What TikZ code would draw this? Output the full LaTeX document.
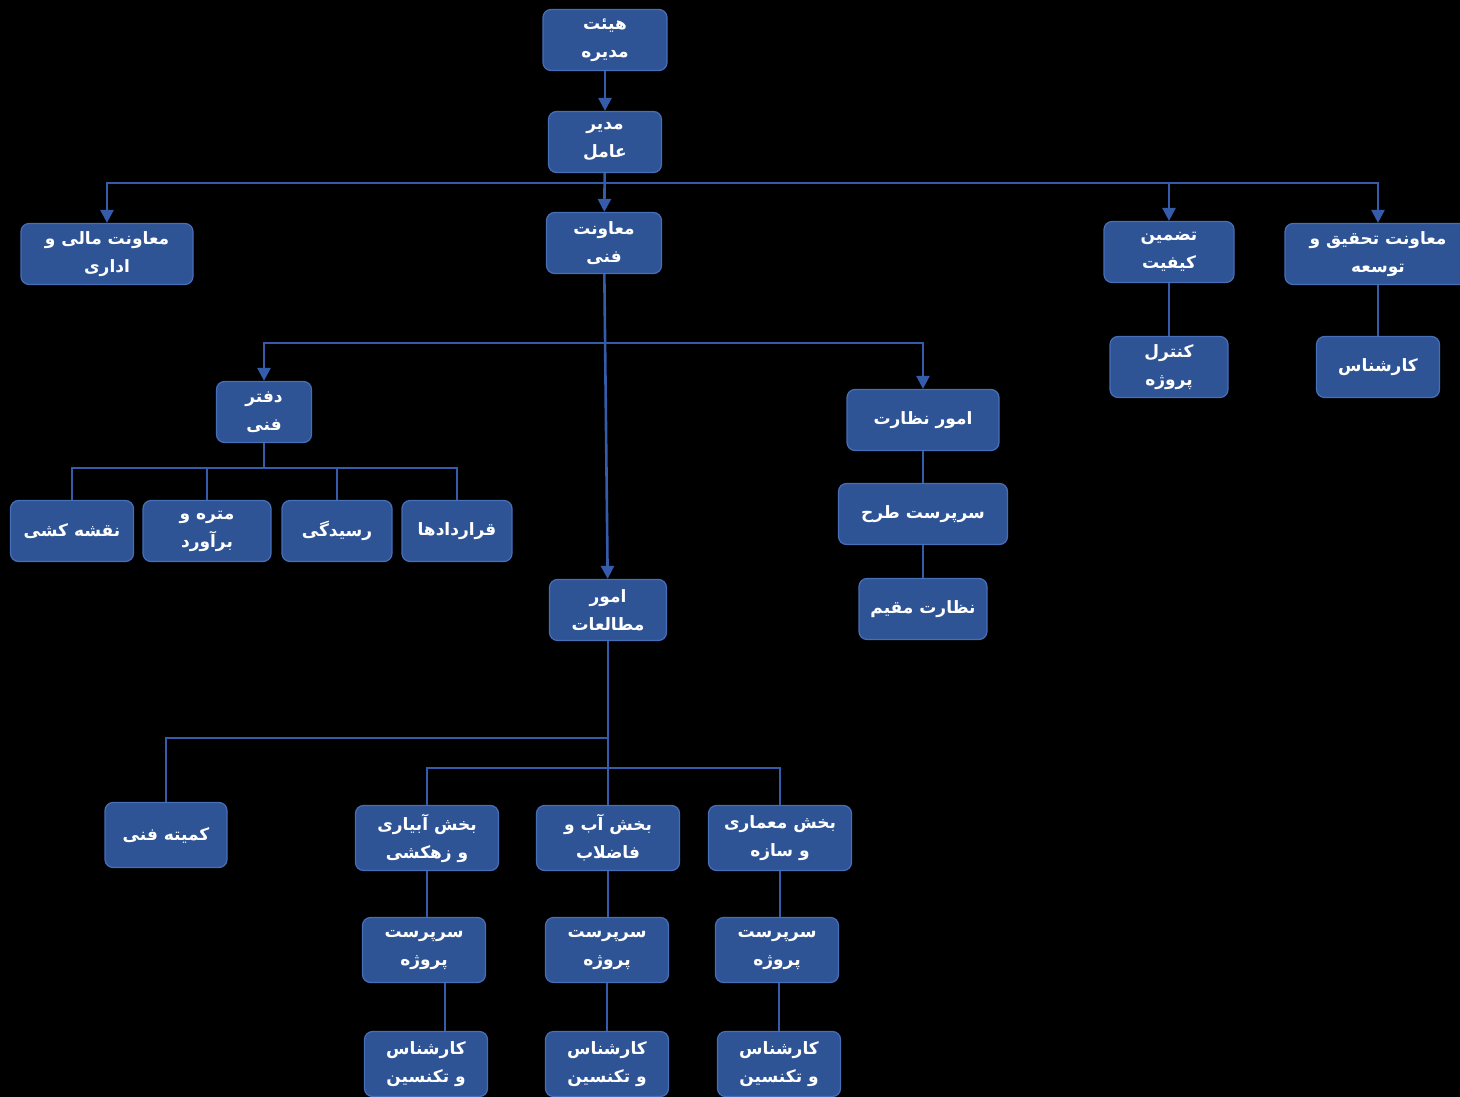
\documentclass[tikz,border=0pt]{standalone}
\usepackage{fontspec}
\usepackage{tikz}
\usetikzlibrary{arrows.meta}
\newfontfamily\farsifont[Script=Arabic]{DejaVu Sans}
\TeXXeTstate=1
\newcommand{\fa}[1]{\beginR#1\endR}
\definecolor{boxblue}{RGB}{47,84,150}
\definecolor{boxedge}{RGB}{70,110,185}
\definecolor{linkblue}{RGB}{52,92,170}

\begin{document}
\begin{tikzpicture} [x=1pt, y=-1pt,
  box/.style={draw=boxedge, line width=1.2pt, fill=boxblue, rounded corners=8pt,
    text=white, align=center, minimum height=61pt, inner sep=2pt,
    font=\farsifont\bfseries\fontsize{17}{28}\selectfont},
  link/.style={linkblue, line width=2.6pt},
  arr/.style={link, -{Triangle[length=13pt,width=13pt]}}]
\useasboundingbox (0,0) rectangle (1460,1097);
\fill[black] (0,0) rectangle (1460,1097);

% top of the chart
\node[box, minimum width=124] (board) at (605,40) {\fa{هیئت}\\\fa{مدیره}};
\node[box, minimum width=113] (ceo) at (605,142) {\fa{مدیر}\\\fa{عامل}};
\node[box, minimum width=115] (techvp) at (604,243) {\fa{معاونت}\\\fa{فنی}};
\node[box, minimum width=172] (finvp) at (107,254) {\fa{معاونت مالی و}\\\fa{اداری}};
\node[box, minimum width=130] (qa) at (1169,252) {\fa{تضمین}\\\fa{کیفیت}};
\node[box, minimum width=186] (rdvp) at (1378,254) {\fa{معاونت تحقیق و}\\\fa{توسعه}};
\node[box, minimum width=118] (projctrl) at (1169,367) {\fa{کنترل}\\\fa{پروژه}};
\node[box, minimum width=123] (rdexp) at (1378,367) {\fa{کارشناس}};

\draw[arr] (board) -- (ceo);
\draw[arr] (ceo) -- (techvp);
\coordinate (busa) at (605,183);
\draw[arr] (busa) -| (finvp);
\draw[arr] (busa) -| (qa);
\draw[arr] (busa) -| (rdvp);
\draw[link] (qa) -- (projctrl);
\draw[link] (rdvp) -- (rdexp);

% technical deputy
\node[box, minimum width=95] (techoffice) at (264,412) {\fa{دفتر}\\\fa{فنی}};
\node[box, minimum width=152] (supervision) at (923,420) {\fa{امور نظارت}};
\node[box, minimum width=123] (drafting) at (72,531) {\fa{نقشه کشی}};
\node[box, minimum width=128] (estimate) at (207,531) {\fa{متره و}\\\fa{برآورد}};
\node[box, minimum width=110] (review) at (337,531) {\fa{رسیدگی}};
\node[box, minimum width=110] (contracts) at (457,531) {\fa{قراردادها}};
\node[box, minimum width=169] (sitehead) at (923,514) {\fa{سرپرست طرح}};
\node[box, minimum width=128] (resident) at (923,609) {\fa{نظارت مقیم}};
\node[box, minimum width=117] (studies) at (608,610) {\fa{امور}\\\fa{مطالعات}};

\draw[arr] (techvp) -- (studies);
\coordinate (busb) at (605,343);
\draw[arr] (busb) -| (techoffice);
\draw[arr] (busb) -| (supervision);
\coordinate (busc) at (264,468);
\draw[link] (techoffice) -- (busc);
\foreach \n in {drafting,estimate,review,contracts}
  \draw[link] (busc) -| (\n);
\draw[link] (supervision) -- (sitehead) -- (resident);

% studies
\node[box, minimum width=122, minimum height=65] (committee) at (166,835) {\fa{کمیته فنی}};
\node[box, minimum width=143, minimum height=65] (sect1) at (427,838) {\fa{بخش آبیاری}\\\fa{و زهکشی}};
\node[box, minimum width=143, minimum height=65] (sect2) at (608,838) {\fa{بخش آب و}\\\fa{فاضلاب}};
\node[box, minimum width=143, minimum height=65] (sect3) at (780,838) {\fa{بخش معماری}\\\fa{و سازه}};

\foreach \n/\xs/\xe in {1/424/426, 2/607/607, 3/777/779} {
  \node[box, minimum width=123, minimum height=65] (sup\n) at (\xs,950) {\fa{سرپرست}\\\fa{پروژه}};
  \node[box, minimum width=123, minimum height=65] (exp\n) at (\xe,1064) {\fa{کارشناس}\\\fa{و تکنسین}};
}

\coordinate (busd) at (608,738);
\coordinate (buse) at (608,768);
\draw[link] (studies) -- (sect2);
\draw[link] (busd) -| (committee);
\draw[link] (buse) -| (sect1);
\draw[link] (buse) -| (sect3);
\foreach \n in {1,2,3}
  \draw[link] (sect\n.south) -- (sect\n.south |- sup\n.north);
\draw[link] ([xshift=21pt]sup1.south) -- ([xshift=21pt]sup1.south |- exp1.north);
\draw[link] (sup2.south) -- (sup2.south |- exp2.north);
\draw[link] ([xshift=2pt]sup3.south) -- ([xshift=2pt]sup3.south |- exp3.north);
\end{tikzpicture}
\end{document}
